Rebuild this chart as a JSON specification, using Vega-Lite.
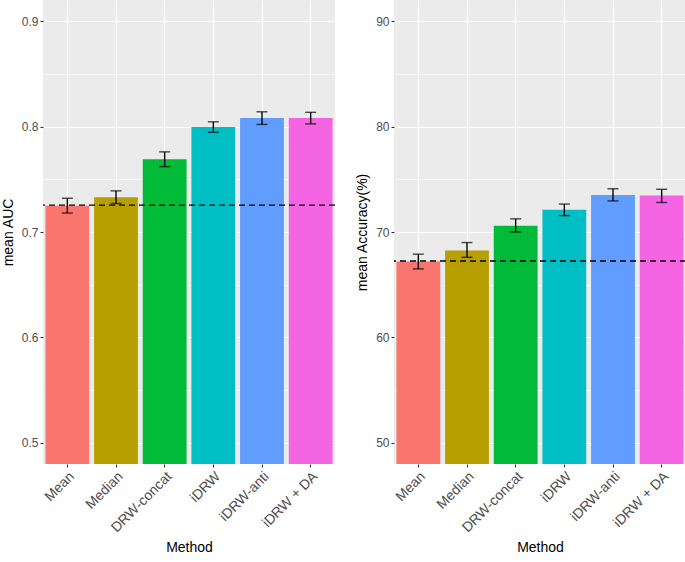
{
  "$schema": "https://vega.github.io/schema/vega-lite/v6.json",
  "padding": {"left": 1, "top": 0, "right": 1, "bottom": 4},
  "background": "white",
  "spacing": 19,
  "config": {
    "view": {"fill": "#EBEBEB", "stroke": null},
    "font": "Liberation Sans",
    "axis": {
      "domain": false,
      "labelColor": "#4D4D4D",
      "labelFontSize": 12,
      "labelFont": "Liberation Sans",
      "titleFont": "Liberation Sans",
      "titleFontSize": 14,
      "titleFontWeight": "normal",
      "titleColor": "black",
      "tickColor": "#333333",
      "tickSize": 3,
      "tickWidth": 1.1,
      "labelPadding": 2,
      "gridColor": "white"
    },
    "axisX": {"labelFontSize": 14}
  },
  "hconcat": [
    {
      "width": 292,
      "height": 464,
      "data": {"values": [
        {"method": "Mean", "mean": 0.725, "lo": 0.718, "hi": 0.732},
        {"method": "Median", "mean": 0.733, "lo": 0.727, "hi": 0.739},
        {"method": "DRW-concat", "mean": 0.769, "lo": 0.762, "hi": 0.776},
        {"method": "iDRW", "mean": 0.7995, "lo": 0.7945, "hi": 0.8045},
        {"method": "iDRW-anti", "mean": 0.808, "lo": 0.802, "hi": 0.814},
        {"method": "iDRW + DA", "mean": 0.808, "lo": 0.8025, "hi": 0.8135}
      ]},
      "layer": [
        {
          "mark": {"type": "bar", "clip": true},
          "encoding": {
            "x": {"field": "method", "type": "nominal", "sort": null, "title": "Method",
              "scale": {"paddingInner": 0.1, "paddingOuter": 0.05},
              "axis": {"labelAngle": -45, "labelAlign": "right", "labelBaseline": "top", "grid": true, "gridWidth": 1.2, "bandPosition": 0.5, "titlePadding": 6}},
            "y": {"field": "mean", "type": "quantitative", "title": "mean AUC",
              "scale": {"domain": [0.48, 0.92], "zero": false, "nice": false},
              "axis": {"values": [0.5, 0.55, 0.6, 0.65, 0.7, 0.75, 0.8, 0.85, 0.9],
                "labelExpr": "abs(datum.value*10 - round(datum.value*10)) > 0.01 ? '' : format(datum.value, '.1f')",
                "gridWidth": {"condition": {"test": "abs(datum.value*10 - round(datum.value*10)) > 0.01", "value": 0.6}, "value": 1.2},
                "tickOpacity": {"condition": {"test": "abs(datum.value*10 - round(datum.value*10)) > 0.01", "value": 0}, "value": 1},
                "titlePadding": 6}},
            "color": {"field": "method", "type": "nominal", "sort": null, "legend": null,
              "scale": {"domain": ["Mean", "Median", "DRW-concat", "iDRW", "iDRW-anti", "iDRW + DA"],
                "range": ["#F8766D", "#B79F00", "#00BA38", "#00BFC4", "#619CFF", "#F564E3"]}}
          }
        },
        {
          "mark": {"type": "rule", "color": "black", "strokeWidth": 1.4},
          "encoding": {"x": {"field": "method", "type": "nominal", "sort": null}, "y": {"field": "lo", "type": "quantitative"}, "y2": {"field": "hi"}}
        },
        {
          "mark": {"type": "tick", "color": "black", "size": 11, "thickness": 1.4},
          "encoding": {"x": {"field": "method", "type": "nominal", "sort": null}, "y": {"field": "lo", "type": "quantitative"}}
        },
        {
          "mark": {"type": "tick", "color": "black", "size": 11, "thickness": 1.4},
          "encoding": {"x": {"field": "method", "type": "nominal", "sort": null}, "y": {"field": "hi", "type": "quantitative"}}
        },
        {
          "data": {"values": [{"ref": 0.7255}]},
          "mark": {"type": "rule", "color": "black", "strokeDash": [6, 4], "strokeWidth": 1.3},
          "encoding": {"y": {"field": "ref", "type": "quantitative"}}
        }
      ]
    },
    {
      "width": 292,
      "height": 464,
      "data": {"values": [
        {"method": "Mean", "mean": 67.2, "lo": 66.5, "hi": 67.9},
        {"method": "Median", "mean": 68.25, "lo": 67.6, "hi": 69.0},
        {"method": "DRW-concat", "mean": 70.6, "lo": 70.0, "hi": 71.25},
        {"method": "iDRW", "mean": 72.1, "lo": 71.55, "hi": 72.65},
        {"method": "iDRW-anti", "mean": 73.5, "lo": 72.95, "hi": 74.1},
        {"method": "iDRW + DA", "mean": 73.45, "lo": 72.8, "hi": 74.05}
      ]},
      "layer": [
        {
          "mark": {"type": "bar", "clip": true},
          "encoding": {
            "x": {"field": "method", "type": "nominal", "sort": null, "title": "Method",
              "scale": {"paddingInner": 0.1, "paddingOuter": 0.05},
              "axis": {"labelAngle": -45, "labelAlign": "right", "labelBaseline": "top", "grid": true, "gridWidth": 1.2, "bandPosition": 0.5, "titlePadding": 6}},
            "y": {"field": "mean", "type": "quantitative", "title": "mean Accuracy(%)",
              "scale": {"domain": [48, 92], "zero": false, "nice": false},
              "axis": {"values": [50, 55, 60, 65, 70, 75, 80, 85, 90],
                "labelExpr": "datum.value % 10 != 0 ? '' : datum.label",
                "gridWidth": {"condition": {"test": "datum.value % 10 != 0", "value": 0.6}, "value": 1.2},
                "tickOpacity": {"condition": {"test": "datum.value % 10 != 0", "value": 0}, "value": 1},
                "titlePadding": 6}},
            "color": {"field": "method", "type": "nominal", "sort": null, "legend": null,
              "scale": {"domain": ["Mean", "Median", "DRW-concat", "iDRW", "iDRW-anti", "iDRW + DA"],
                "range": ["#F8766D", "#B79F00", "#00BA38", "#00BFC4", "#619CFF", "#F564E3"]}}
          }
        },
        {
          "mark": {"type": "rule", "color": "black", "strokeWidth": 1.4},
          "encoding": {"x": {"field": "method", "type": "nominal", "sort": null}, "y": {"field": "lo", "type": "quantitative"}, "y2": {"field": "hi"}}
        },
        {
          "mark": {"type": "tick", "color": "black", "size": 11, "thickness": 1.4},
          "encoding": {"x": {"field": "method", "type": "nominal", "sort": null}, "y": {"field": "lo", "type": "quantitative"}}
        },
        {
          "mark": {"type": "tick", "color": "black", "size": 11, "thickness": 1.4},
          "encoding": {"x": {"field": "method", "type": "nominal", "sort": null}, "y": {"field": "hi", "type": "quantitative"}}
        },
        {
          "data": {"values": [{"ref": 67.25}]},
          "mark": {"type": "rule", "color": "black", "strokeDash": [6, 4], "strokeWidth": 1.3},
          "encoding": {"y": {"field": "ref", "type": "quantitative"}}
        }
      ]
    }
  ]
}
